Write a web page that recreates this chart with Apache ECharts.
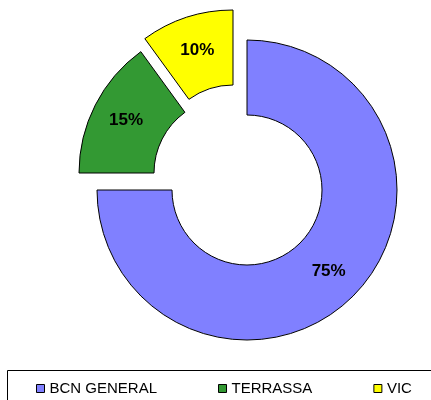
<!DOCTYPE html>
<html>
<head>
<meta charset="utf-8">
<script src="https://cdn.jsdelivr.net/npm/echarts@6/dist/echarts.min.js"></script>
<style>
  html, body { margin: 0; padding: 0; background: #fff; }
  #chart { width: 431px; height: 400px; }
</style>
</head>
<body>
<div id="chart"></div>
<script>
const categories = ["BCN GENERAL", "TERRASSA", "VIC"];
const values = [75, 15, 10];
const colors = ["#8080FF", "#339933", "#FFFF00"];

// how far each slice is pulled out of the ring (px, x / y)
const explode = [[0, 0], [-18, -17], [-14, -30]];
const baseCenter = [247, 190];

const chart = echarts.init(document.getElementById("chart"));
const font = "Arial, 'Liberation Sans', sans-serif";

// one pie per slice so every slice can be pulled out on its own
const series = categories.map((_, k) => ({
  type: "pie",
  silent: true,
  center: [baseCenter[0] + explode[k][0], baseCenter[1] + explode[k][1]],
  radius: [75, 150],
  startAngle: 90,
  clockwise: true,
  avoidLabelOverlap: false,
  label: {
    position: "inside",
    formatter: "{c}%",
    fontFamily: font,
    fontSize: 17,
    fontWeight: "bold",
    color: "#000"
  },
  labelLine: { show: false },
  emphasis: { disabled: true },
  data: categories.map((name, i) => ({
    name: name,
    value: values[i],
    itemStyle: i === k
      ? { color: colors[i], borderColor: "#000", borderWidth: 1 }
      : { color: "rgba(0,0,0,0)", borderWidth: 0 },
    label: { show: i === k }
  }))
}));

chart.setOption({
  animation: false,
  backgroundColor: "#ffffff",
  graphic: [{
    type: "rect",
    shape: { x: 7.5, y: 370.5, width: 440, height: 40 },
    style: { fill: "none", stroke: "#000", lineWidth: 1 },
    silent: true
  }],
  legend: {
    data: categories.map((name, i) => ({
      name: name,
      itemStyle: { color: colors[i], borderColor: "#000", borderWidth: 1 }
    })),
    left: 36,
    top: 381,
    padding: 0,
    icon: "rect",
    itemWidth: 8,
    itemHeight: 8,
    itemGap: 61,
    selectedMode: false,
    textStyle: { fontFamily: font, fontSize: 15, color: "#000" }
  },
  series: series
});
</script>
</body>
</html>
